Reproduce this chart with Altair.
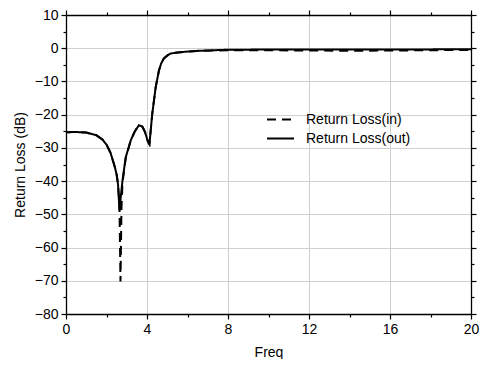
import altair as alt
import pandas as pd

# Frequency points and return loss values (dB)
freq_out = [0, 0.5, 1.0, 1.5, 1.8, 2.0, 2.2, 2.4, 2.5, 2.57, 2.64, 2.7, 2.79, 2.95, 3.2, 3.4, 3.6, 3.77, 3.9, 4.05, 4.12,
            4.26, 4.43, 4.59, 4.7, 4.83, 5.0, 5.16, 5.5, 5.82, 6.47, 8, 10, 12, 14, 16, 18, 20]
rl_out = [-25.3, -25.2, -25.4, -26.2, -27.5, -29.0, -31.5, -35.5, -38.0, -41.0, -48.8, -45.0, -39.8, -32.8, -27.7, -25.0, -23.2, -23.6, -25.2, -28.2, -28.9,
          -19.7, -11.7, -6.7, -4.6, -3.1, -2.2, -1.6, -1.3, -1.1, -0.8, -0.45, -0.4, -0.35, -0.35, -0.4, -0.35, -0.3]

freq_in = [0, 0.5, 1.0, 1.5, 1.8, 2.0, 2.2, 2.4, 2.5, 2.57, 2.64, 2.69, 2.74, 2.79, 2.95, 3.2, 3.4, 3.6, 3.77, 3.9, 4.05, 4.12,
           4.26, 4.43, 4.59, 4.7, 4.83, 5.0, 5.16, 5.5, 5.82, 6.47, 8, 10, 12, 14, 16, 18, 20]
rl_in = [-25.3, -25.2, -25.4, -26.2, -27.5, -29.0, -31.5, -35.5, -38.0, -41.0, -47.0, -70.2, -48.0, -40.5, -33.0, -27.7, -25.0, -23.2, -23.6, -25.2, -28.2, -28.9,
         -19.7, -11.7, -6.7, -4.6, -3.1, -2.2, -1.6, -1.3, -1.1, -0.85, -0.6, -0.6, -0.7, -0.75, -0.7, -0.6, -0.5]

series_names = ["Return Loss(in)", "Return Loss(out)"]
x_ticks = [0, 2, 4, 6, 8, 10, 12, 14, 16, 18, 20]
y_ticks = [-80, -75, -70, -65, -60, -55, -50, -45, -40, -35, -30, -25, -20, -15, -10, -5, 0, 5, 10]

df = pd.concat([
    pd.DataFrame({"Freq": freq_in, "RL": rl_in, "series": series_names[0], "ord": 0}),
    pd.DataFrame({"Freq": freq_out, "RL": rl_out, "series": series_names[1], "ord": 1}),
])

FONT = "Liberation Sans"
xs = alt.Scale(domain=[0, 20], nice=False, zero=False)
ys = alt.Scale(domain=[-80, 10], nice=False, zero=False)

major_x = "datum.value % 4 === 0"
major_y = "datum.value % 10 === 0"

common_axis = dict(domainColor="black", domainWidth=1.3, tickColor="black", tickWidth=1.2,
                   labelFont=FONT, labelFontSize=14, labelColor="black",
                   titleFont=FONT, titleFontSize=14, titleFontWeight="normal", titleColor="black",
                   gridColor="#d0d0d0", gridWidth=1)

x_bottom = alt.Axis(values=x_ticks, title="Freq", orient="bottom", grid=True,
                    gridOpacity={"condition": {"test": major_x + " && datum.value > 0 && datum.value < 20", "value": 1}, "value": 0},
                    tickSize={"condition": {"test": major_x, "value": 5}, "value": 3},
                    labelExpr="datum.value % 4 === 0 ? datum.label : ''",
                    labelPadding=3, titlePadding=9, labelFlush=False, **common_axis)
y_left = alt.Axis(values=y_ticks, title="Return Loss (dB)", orient="left", grid=True,
                  gridOpacity={"condition": {"test": major_y + " && datum.value > -80 && datum.value < 10", "value": 1}, "value": 0},
                  tickSize={"condition": {"test": major_y, "value": 5}, "value": 3},
                  labelExpr="datum.value % 10 === 0 ? datum.label : ''",
                  labelPadding=3, titlePadding=7, labelFlush=False, **common_axis)

lines = alt.Chart(df).mark_line(color="black", strokeWidth=2, interpolate="linear").encode(
    x=alt.X("Freq:Q", scale=xs, axis=x_bottom),
    y=alt.Y("RL:Q", scale=ys, axis=y_left),
    strokeDash=alt.StrokeDash("series:N", scale=alt.Scale(domain=series_names, range=[[9, 6], [1, 0]]),
                              legend=alt.Legend(title=None, orient="none", legendX=200, legendY=95,
                                                symbolType="stroke", symbolSize=729, symbolStrokeWidth=2,
                                                symbolStrokeColor="black", labelFont=FONT, labelFontSize=14,
                                                labelColor="black", labelOffset=11, clipHeight=19,
                                                rowPadding=0, padding=0)),
    order="ord:Q",
    detail="series:N",
)

x_top = alt.Axis(values=x_ticks, title=None, orient="top", grid=False, labels=False,
                 tickSize={"condition": {"test": major_x, "value": 5}, "value": 3},
                 **common_axis)
y_right = alt.Axis(values=y_ticks, title=None, orient="right", grid=False, labels=False,
                   tickSize={"condition": {"test": major_y, "value": 5}, "value": 3},
                   **common_axis)

frame = alt.Chart(df).mark_point(opacity=0).encode(
    x=alt.X("Freq:Q", scale=xs, axis=x_top),
    y=alt.Y("RL:Q", scale=ys, axis=y_right),
)

chart = alt.layer(lines, frame).resolve_axis(x="independent", y="independent").properties(
    width=405, height=299,
    autosize=alt.AutoSizeParams(type="none"),
    padding={"left": 58, "top": 7, "right": 9, "bottom": 45},
).configure_view(stroke=None)

chart.save("out.html", embed_options={"renderer": "svg", "actions": False})
